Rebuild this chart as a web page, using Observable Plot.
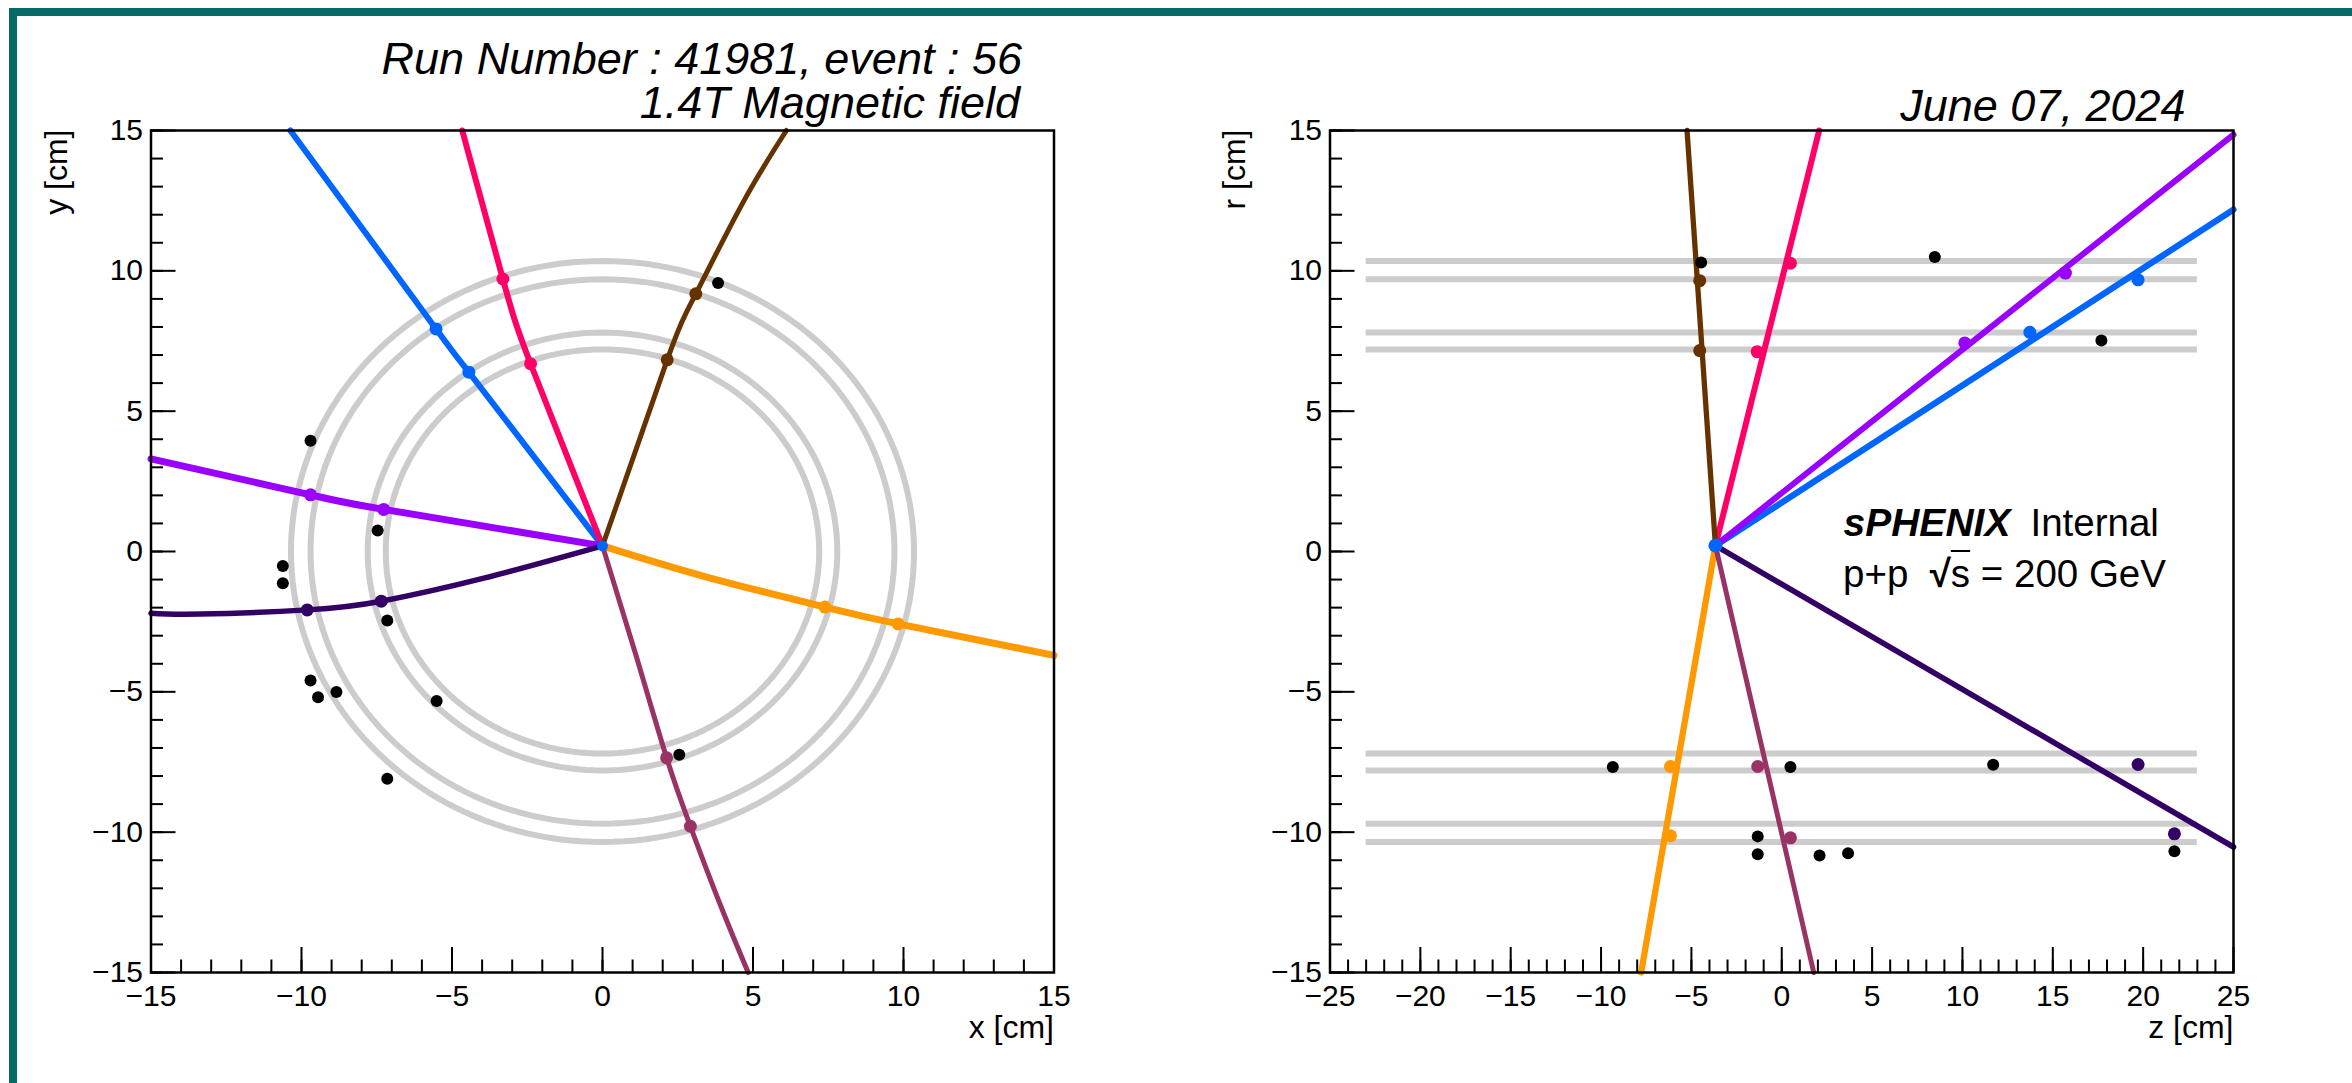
<!DOCTYPE html>
<html>
<head>
<meta charset="utf-8">
<script src="https://cdn.jsdelivr.net/npm/d3@7"></script>
<script src="https://cdn.jsdelivr.net/npm/@observablehq/plot@0.6"></script>
<style>
  html, body { margin: 0; padding: 0; background: #fff; }
  #page { position: relative; width: 2352px; height: 1083px; overflow: hidden; background: #fff;
          font-family: "Liberation Sans", Arial, Helvetica, sans-serif; color: #000; }
  .panel { position: absolute; top: 0; width: 1176px; height: 1083px; }
  .panel svg { display: block; max-width: none; }
  .bar { position: absolute; background: #066b66; z-index: 10; }
  .txt { position: absolute; white-space: pre; line-height: 1; z-index: 5; }
</style>
</head>
<body>
<div id="page">
  <div id="left" class="panel" style="left:0px"></div>
  <div id="right" class="panel" style="left:1176px"></div>
  <div class="txt" id="pp" style="left:1843px;top:555.4px;font-size:38.5px">p+p  <b>√</b><span style="text-decoration:overline;text-decoration-thickness:2px">s</span> = 200 GeV</div>
  <div class="bar" style="left:9px;top:8px;width:2343px;height:8px"></div>
  <div class="bar" style="left:9px;top:8px;width:7.5px;height:1075px"></div>
</div>
<script>
// ---------------- DATA ----------------
const trackColors = ["#0066ff", "#ff0066", "#663300", "#9900ff", "#330066", "#ff9900", "#993366"];
const xyWidths   = [6, 6, 5, 7, 5.5, 7, 5];
const rzWidths   = [6.3, 6, 5.3, 6, 5.7, 6.3, 5];

// detector layer radii [cm]
const ringRadii = [7.2, 7.8, 9.7, 10.35];
const layerZExtent = [-23, 23];

// primary vertex
const vertexXY = [0, 0.2];
const vertexRZ = [-3.67, 0.21];

// x-y view: points along each track (helix projections)
const xyCurves = [
  [[0, 0.2], [-4.44, 6.39], [-5.53, 7.93], [-10.37, 15]],
  [[0, 0.2], [-2.39, 6.69], [-3.31, 9.71], [-4.66, 15]],
  [[0, 0.2], [2.15, 6.83], [3.10, 9.18], [4.67, 12.44], [6.11, 15]],
  [[0, 0.2], [-7.27, 1.50], [-9.70, 2.02], [-15, 3.30]],
  [[0, 0.2], [-3.94, -0.95], [-7.35, -1.77], [-9.81, -2.08], [-13.36, -2.23], [-15, -2.20]],
  [[0, 0.2], [3.46, -0.91], [7.39, -1.98], [9.82, -2.58], [15, -3.70]],
  [[0, 0.2], [1.13, -3.76], [2.13, -7.35], [2.92, -9.79], [3.90, -12.55], [4.84, -15]]
];
// x-y view: hits associated with each track
const xyHits = [
  [[-4.44, 6.39], [-5.53, 7.93]],
  [[-2.39, 6.69], [-3.31, 9.71]],
  [[2.15, 6.83], [3.10, 9.18]],
  [[-7.27, 1.50], [-9.70, 2.02]],
  [[-7.35, -1.77], [-9.81, -2.08]],
  [[7.39, -1.98], [9.82, -2.58]],
  [[2.13, -7.35], [2.92, -9.79]]
];
// x-y view: unassociated hits
const xyOtherHits = [[3.84, 9.57], [-9.70, 3.95], [-7.47, 0.75], [-10.62, -0.52], [-10.62, -1.13],
  [-7.15, -2.46], [-9.70, -4.60], [-9.45, -5.19], [-8.84, -5.01], [-5.51, -5.33], [-7.15, -8.10], [2.55, -7.24]];

// r-z view: end point of each straight track (starts at the vertex)
const rzEnds = [[25, 12.18], [2.07, 15], [-5.24, 15], [25, 14.85], [25, -10.53], [-7.78, -15], [1.77, -15]];
const rzHits = [
  [[13.73, 7.81], [19.72, 9.68]],
  [[-1.36, 7.12], [0.48, 10.27]],
  [[-4.54, 7.16], [-4.54, 9.65]],
  [[10.13, 7.43], [15.70, 9.92]],
  [[19.72, -7.59], [21.73, -10.06]],
  [[-6.16, -7.66], [-6.16, -10.13]],
  [[-1.33, -7.66], [0.48, -10.20]]
];
const rzOtherHits = [[-4.46, 10.30], [8.47, 10.49], [17.69, 7.52], [-9.35, -7.68], [-1.33, -10.15],
  [-1.33, -10.79], [0.48, -7.68], [11.70, -7.60], [2.09, -10.83], [3.67, -10.75], [21.73, -10.68]];

// axes
const xyDomain = [-15, 15];
const zDomain = [-25, 25];
const xyMajorTicks = [-15, -10, -5, 0, 5, 10, 15];
const zMajorTicks = [-25, -20, -15, -10, -5, 0, 5, 10, 15, 20, 25];
const xyMinorTicks = d3.range(-15, 16);
const zMinorTicks = d3.range(-25, 26);

// ---------------- DRAWING ----------------
const FONT = "'Liberation Sans', Arial, Helvetica, sans-serif";
const TICK_FS = 30, TITLE_FS = 45, AXT_FS = 32;

function axisMarks(xMajor, xMinor, yMajor, yMinor) {
  return [
    Plot.axisX(xMinor, {tickSize: -12.5, fill: "none", strokeWidth: 2, label: null}),
    Plot.axisX(xMajor, {tickSize: -25, fill: "none", strokeWidth: 2, label: null}),
    Plot.axisX(xMajor, {tickSize: 0, tickPadding: 12, fontSize: TICK_FS, label: null}),
    Plot.axisY(yMinor, {tickSize: -12.5, fill: "none", strokeWidth: 2, label: null}),
    Plot.axisY(yMajor, {tickSize: -25, fill: "none", strokeWidth: 2, label: null}),
    Plot.axisY(yMajor, {tickSize: 0, tickPadding: 8, fontSize: TICK_FS, label: null})
  ];
}

// ring outlines (circle of given radius, sampled in angle)
const ringPts = ringRadii.flatMap((r, k) =>
  d3.range(0, 361, 2).map(a => ({ring: k, x: r * Math.cos(a * Math.PI / 180), y: r * Math.sin(a * Math.PI / 180)})));

const left = Plot.plot({
  width: 1176, height: 1083,
  marginLeft: 150.5, marginRight: 122.5, marginTop: 130, marginBottom: 111,
  x: {domain: xyDomain}, y: {domain: xyDomain},
  style: {fontFamily: FONT, fontSize: TICK_FS + "px", background: "transparent", color: "black", overflow: "visible"},
  marks: [
    Plot.line(ringPts, {x: "x", y: "y", z: "ring", stroke: "#cccccc", strokeWidth: 6}),
    ...xyCurves.map((pts, i) => Plot.line(pts, {x: d => d[0], y: d => d[1], stroke: trackColors[i], strokeWidth: xyWidths[i], curve: "natural"})),
    Plot.dot(xyOtherHits, {x: d => d[0], y: d => d[1], r: 6, fill: "black"}),
    ...xyHits.map((pts, i) => Plot.dot(pts, {x: d => d[0], y: d => d[1], r: 6.5, fill: trackColors[i]})),
    Plot.dot([vertexXY], {x: d => d[0], y: d => d[1], r: 5.5, fill: trackColors[0]}),
    Plot.frame({stroke: "black", strokeWidth: 2.5}),
    ...axisMarks(xyMajorTicks, xyMinorTicks, xyMajorTicks, xyMinorTicks),
    Plot.text(["y [cm]"], {text: d => d, frameAnchor: "top-left", rotate: -90, textAnchor: "end", lineAnchor: "middle", dx: -94.5, dy: -1, fontSize: AXT_FS}),
    Plot.text(["x [cm]"], {text: d => d, frameAnchor: "bottom-right", textAnchor: "end", lineAnchor: "bottom", dy: 65, fontSize: AXT_FS}),
    Plot.text(["Run Number : 41981, event : 56"], {text: d => d, frameAnchor: "top-right", textAnchor: "end", lineAnchor: "bottom", dx: -32, dy: -57, fontSize: TITLE_FS, fontStyle: "italic"}),
    Plot.text(["1.4T Magnetic field"], {text: d => d, frameAnchor: "top-right", textAnchor: "end", lineAnchor: "bottom", dx: -34, dy: -13, fontSize: TITLE_FS, fontStyle: "italic"})
  ]
});
document.getElementById("left").appendChild(left);

const right = Plot.plot({
  width: 1176, height: 1083,
  marginLeft: 153.5, marginRight: 119, marginTop: 130, marginBottom: 111,
  x: {domain: zDomain}, y: {domain: xyDomain},
  style: {fontFamily: FONT, fontSize: TICK_FS + "px", background: "transparent", color: "black", overflow: "visible"},
  marks: [
    Plot.ruleY(ringRadii.flatMap(r => [r, -r]), {x1: layerZExtent[0], x2: layerZExtent[1], stroke: "#cccccc", strokeWidth: 6}),
    ...rzEnds.map((end, i) => Plot.line([vertexRZ, end], {x: d => d[0], y: d => d[1], stroke: trackColors[i], strokeWidth: rzWidths[i]})),
    Plot.dot(rzOtherHits, {x: d => d[0], y: d => d[1], r: 6, fill: "black"}),
    ...rzHits.map((pts, i) => Plot.dot(pts, {x: d => d[0], y: d => d[1], r: 6.5, fill: trackColors[i]})),
    Plot.dot([vertexRZ], {x: d => d[0], y: d => d[1], r: 7, fill: trackColors[0]}),
    Plot.frame({stroke: "black", strokeWidth: 2.5}),
    ...axisMarks(zMajorTicks, zMinorTicks, xyMajorTicks, xyMinorTicks),
    Plot.text(["r [cm]"], {text: d => d, frameAnchor: "top-left", rotate: -90, textAnchor: "end", lineAnchor: "middle", dx: -95.5, dy: -1, fontSize: AXT_FS}),
    Plot.text(["z [cm]"], {text: d => d, frameAnchor: "bottom-right", textAnchor: "end", lineAnchor: "bottom", dy: 65, fontSize: AXT_FS}),
    Plot.text(["June 07, 2024"], {text: d => d, frameAnchor: "top-right", textAnchor: "end", lineAnchor: "bottom", dx: -48, dy: -10, fontSize: TITLE_FS, fontStyle: "italic"}),
    Plot.text(["sPHENIX"], {text: d => d, frameAnchor: "top-left", textAnchor: "start", lineAnchor: "bottom", dx: 513.5, dy: 405, fontSize: 39, fontWeight: "bold", fontStyle: "italic"}),
    Plot.text(["Internal"], {text: d => d, frameAnchor: "top-left", textAnchor: "start", lineAnchor: "bottom", dx: 700.5, dy: 405, fontSize: 38.5})
  ]
});
document.getElementById("right").appendChild(right);
</script>
</body>
</html>
